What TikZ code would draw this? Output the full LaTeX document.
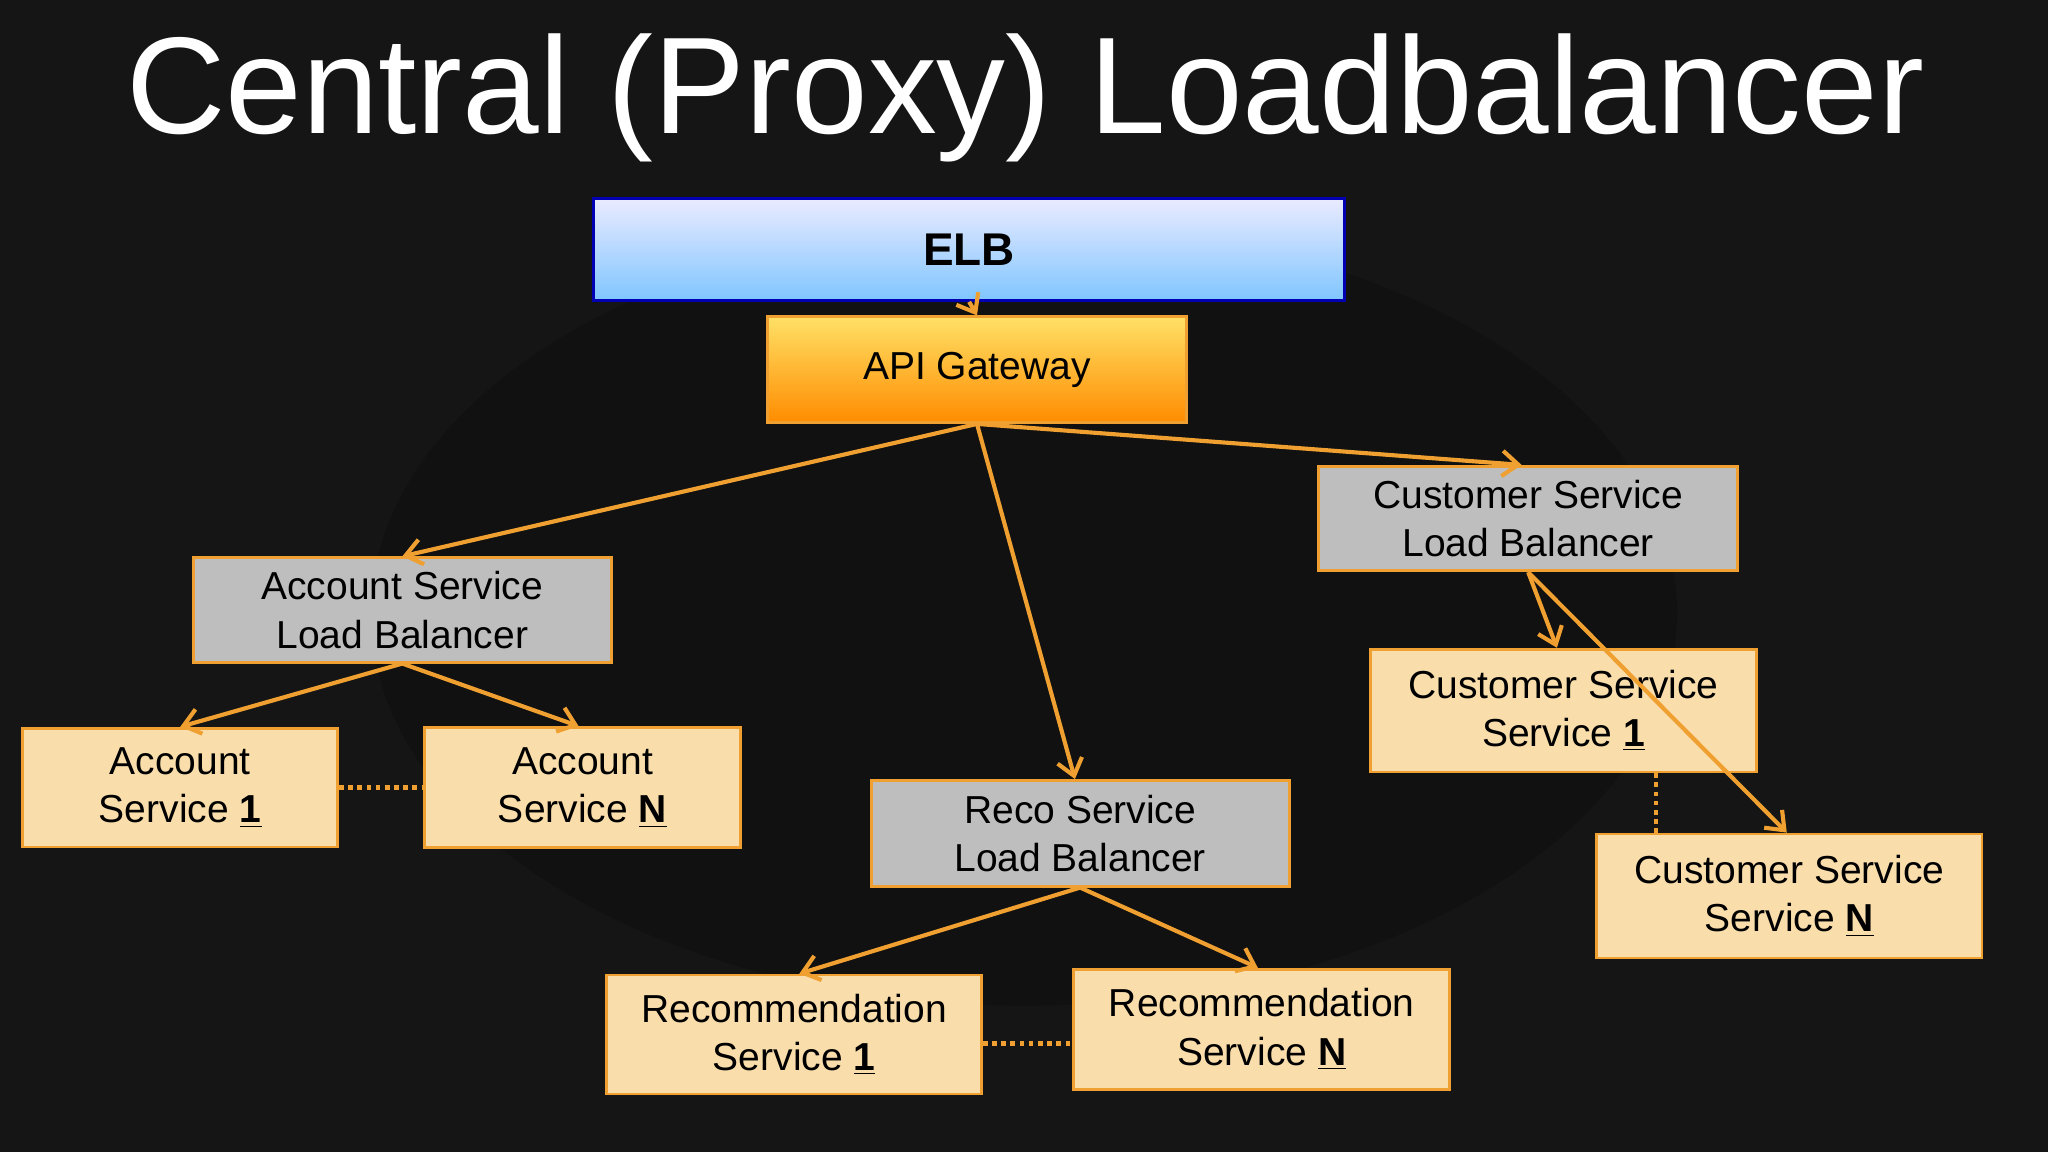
\documentclass[tikz,border=0pt]{standalone}
\usepackage{fontspec}
\setmainfont{Liberation Sans}
\usetikzlibrary{arrows.meta,calc}
\definecolor{bg}{HTML}{151515}
\definecolor{org}{HTML}{F0A030}
\definecolor{cream}{HTML}{F9DDAB}
\definecolor{gry}{HTML}{BEBEBE}
\begin{document}
\begin{tikzpicture}[x=0.02cm,y=-0.02cm,
  box/.style={draw=org,line width=1.2pt,inner sep=0pt,align=center,font=\fontsize{17}{21}\selectfont,text=black},
  lb/.style={box,fill=gry},
  svc/.style={box,fill=cream},
  arr/.style={draw=org,line width=1.8pt,-{Straight Barb[length=7pt,width=11pt]}},
  dot/.style={draw=org,line width=2pt,dotted}]
\fill[bg] (0,0) rectangle (1568,882);
\useasboundingbox (0,0) rectangle (1568,882);
\fill[black!40!bg, opacity=0.4] (784,470) ellipse (500 and 300);
\node[text=white,font=\fontsize{60}{70}\selectfont] (title) at (785,75) {Central (Proxy) Loadbalancer};
\node[box,draw=blue!70!black,top color=blue!8,bottom color=blue!45!cyan!50,minimum width=575*0.02cm,minimum height=78*0.02cm,font=\fontsize{20}{24}\selectfont\bfseries] (elb) at (742,191) {ELB};
\node[box,draw=org,top color=yellow!60!orange!60,bottom color=orange!90!yellow,minimum width=321*0.02cm,minimum height=81*0.02cm] (api) at (748,283) {API Gateway};
\node[lb,minimum width=320*0.02cm,minimum height=80*0.02cm] (alb) at (308,467) {Account Service\\Load Balancer};
\node[lb,minimum width=321*0.02cm,minimum height=80*0.02cm] (clb) at (1170,397) {Customer Service\\Load Balancer};
\node[lb,minimum width=320*0.02cm,minimum height=81*0.02cm] (rlb) at (827,638) {Reco Service\\Load Balancer};
\node[svc,minimum width=241*0.02cm,minimum height=91*0.02cm] (as1) at (138,603) {Account\\Service \underline{\textbf{1}}};
\node[svc,minimum width=242*0.02cm,minimum height=92*0.02cm] (asn) at (446,603) {Account\\Service \underline{\textbf{N}}};
\node[svc,minimum width=287*0.02cm,minimum height=91*0.02cm] (rs1) at (608,792) {Recommendation\\Service \underline{\textbf{1}}};
\node[svc,minimum width=288*0.02cm,minimum height=92*0.02cm] (rsn) at (966,788) {Recommendation\\Service \underline{\textbf{N}}};
\node[svc,minimum width=296*0.02cm,minimum height=94*0.02cm] (cs1) at (1197,544) {Customer Service\\Service \underline{\textbf{1}}};
\node[svc,minimum width=295*0.02cm,minimum height=95*0.02cm] (csn) at (1370,686) {Customer Service\\Service \underline{\textbf{N}}};
\draw[arr] (elb.south) -- (api.north);
\draw[arr] (api.south) -- (alb.north);
\draw[arr] (api.south) -- (rlb.north -| 823,0);
\draw[arr] (api.south) -- (clb.north -| 1165,0);
\draw[arr] (alb.south) -- (as1.north);
\draw[arr] (alb.south) -- (asn.north -| 443,0);
\draw[arr] (rlb.south) -- (rs1.north -| 612,0);
\draw[arr] (rlb.south) -- (rsn.north -| 963,0);
\draw[arr] (clb.south) -- (cs1.north -| 1192,0);
\draw[arr] (clb.south) -- (csn.north -| 1368,0);
\draw[dot] (as1.east) -- (asn.west);
\draw[dot] (rs1.east |- 0,799) -- (rsn.west |- 0,799);
\draw[dot] (cs1.south -| 1268,0) -- (csn.north -| 1268,0);
\end{tikzpicture}
\end{document}
